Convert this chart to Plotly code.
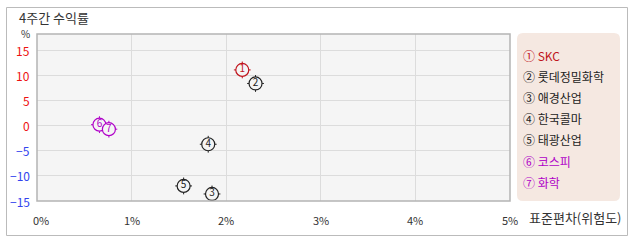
import plotly.graph_objects as go

# Data
names = ["SKC", "롯데정밀화학", "애경산업", "한국콜마", "태광산업", "코스피", "화학"]
circled = ["①", "②", "③", "④", "⑤", "⑥", "⑦"]
numbers = ["1", "2", "3", "4", "5", "6", "7"]
risk = [2.17, 2.31, 1.85, 1.81, 1.55, 0.66, 0.76]      # 표준편차 (%)
ret = [11.1, 8.4, -13.6, -3.7, -12.0, 0.2, -0.7]        # 4주간 수익률 (%)
group = ["main", "peer", "peer", "peer", "peer", "index", "index"]
x_ticks = [0, 1, 2, 3, 4, 5]
x_tick_text = ["0%", "1%", "2%", "3%", "4%", "5%"]
y_ticks = [-15, -10, -5, 0, 5, 10, 15]

col_map = {"main": "#c0141c", "peer": "#222222", "index": "#b000c8"}
colors = [col_map[g] for g in group]

FONT = "Noto Sans CJK KR"
BG = "#f5f5f5"

W, H = 638, 242
L, R, T, B = 37, 128, 34, 41
pw, ph = W - L - R, H - T - B


def px(xp):
    return (xp - L) / pw


def py(yp):
    return (H - B - yp) / ph


fig = go.Figure()
fig.add_trace(go.Scatter(
    x=risk, y=ret, mode="markers", hoverinfo="skip",
    marker=dict(symbol="cross-thin-open", size=12, color=colors,
                line=dict(width=1, color=colors)),
))
fig.add_trace(go.Scatter(
    x=risk, y=ret, mode="markers+text", text=numbers,
    textposition="middle center",
    textfont=dict(family=FONT, size=10, color=colors),
    marker=dict(symbol="circle", size=13, color=BG,
                line=dict(width=1.2, color=colors)),
))

annotations = []
for v in y_ticks:
    annotations.append(dict(
        x=0, xref="paper", xanchor="right", xshift=-5,
        y=v, yref="y", yanchor="middle",
        text=str(v).replace("-", "−"), showarrow=False,
        font=dict(family=FONT, size=12, color=("#3344ee" if v < 0 else "#ee1111")),
    ))
for v, t in zip(x_ticks, x_tick_text):
    annotations.append(dict(
        x=v, xref="x", xanchor="center", xshift=(4 if v == 0 else 0),
        y=0, yref="paper", yanchor="top", yshift=-9,
        text=t, showarrow=False,
        font=dict(family=FONT, size=11, color="#333333"),
    ))

annotations.append(dict(x=px(17), y=py(18), xref="paper", yref="paper",
                        xanchor="left", yanchor="middle", text="4주간 수익률",
                        showarrow=False, font=dict(family=FONT, size=13, color="#333333")))
annotations.append(dict(x=px(25), y=py(33.5), xref="paper", yref="paper",
                        xanchor="center", yanchor="middle", text="%",
                        showarrow=False, font=dict(family=FONT, size=10, color="#333333")))
annotations.append(dict(x=px(527), y=py(217), xref="paper", yref="paper",
                        xanchor="left", yanchor="middle", text="표준편차(위험도)",
                        showarrow=False, font=dict(family=FONT, size=13, color="#333333")))
for i, (c, n) in enumerate(zip(circled, names)):
    annotations.append(dict(x=px(521), y=py(55 + i * 21.2), xref="paper", yref="paper",
                            xanchor="left", yanchor="middle", text=f"{c} {n}",
                            showarrow=False,
                            font=dict(family=FONT, size=12, color=colors[i])))

# rounded legend box path in paper coords
x0, x1, y0, y1, r = 517, 620, 33, 201, 6


def rr_path():
    pts = [
        f"M {px(x0 + r)},{py(y0)}",
        f"L {px(x1 - r)},{py(y0)}",
        f"Q {px(x1)},{py(y0)} {px(x1)},{py(y0 + r)}",
        f"L {px(x1)},{py(y1 - r)}",
        f"Q {px(x1)},{py(y1)} {px(x1 - r)},{py(y1)}",
        f"L {px(x0 + r)},{py(y1)}",
        f"Q {px(x0)},{py(y1)} {px(x0)},{py(y1 - r)}",
        f"L {px(x0)},{py(y0 + r)}",
        f"Q {px(x0)},{py(y0)} {px(x0 + r)},{py(y0)}",
        "Z",
    ]
    return " ".join(pts)


shapes = [
    dict(type="rect", xref="paper", yref="paper",
         x0=px(6.5), x1=px(627.5), y0=py(7.5), y1=py(235.5),
         line=dict(color="#bbbbbb", width=1), fillcolor="rgba(0,0,0,0)", layer="below"),
    dict(type="path", xref="paper", yref="paper", path=rr_path(),
         line=dict(width=0), fillcolor="#f5e8e1", layer="below"),
    dict(type="rect", xref="paper", yref="paper", x0=0, x1=1, y0=0, y1=1,
         line=dict(color="#b4b4b4", width=1.5), fillcolor="rgba(0,0,0,0)", layer="above"),
]

fig.update_layout(
    width=W, height=H,
    margin=dict(l=L, r=R, t=T, b=B),
    paper_bgcolor="white", plot_bgcolor=BG,
    showlegend=False,
    font=dict(family=FONT, size=12, color="#333333"),
    xaxis=dict(range=[0, 5], tickvals=x_ticks, showticklabels=False,
               showgrid=True, gridcolor="#dcdcdc", gridwidth=1, zeroline=False,
               fixedrange=True),
    yaxis=dict(range=[-15, 18.25], tickvals=y_ticks, showticklabels=False,
               showgrid=True, gridcolor="#dcdcdc", gridwidth=1, zeroline=False,
               fixedrange=True),
    annotations=annotations,
    shapes=shapes,
)

fig.write_html("out.html")
